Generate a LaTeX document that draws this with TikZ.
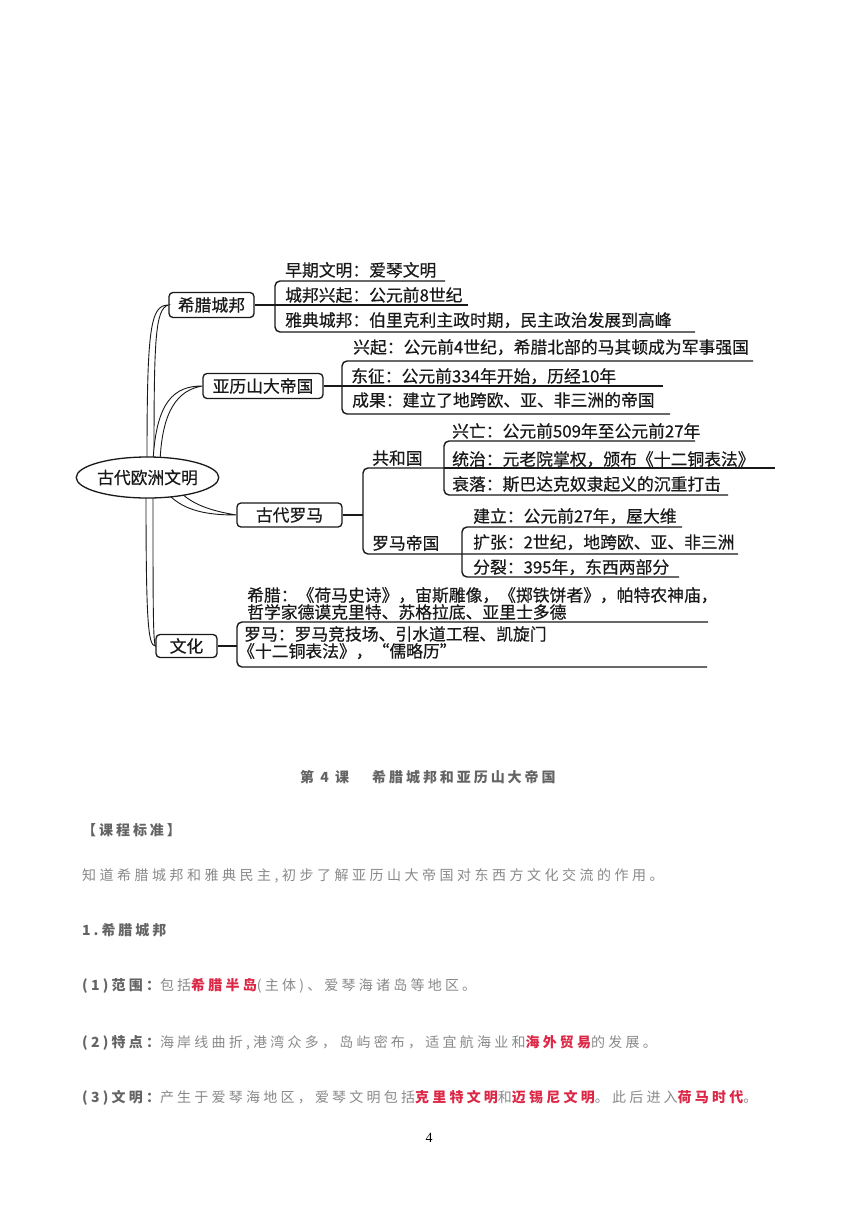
\documentclass[tikz,border=0pt]{standalone}
\usepackage{fontspec}
\setmainfont{Liberation Serif}
\newfontfamily\cjk{Noto Sans CJK SC}[FakeBold=0.5]
\newfontfamily\cjklow{Noto Sans CJK SC}[LetterSpace=21]
\newfontfamily\cjkpara{Noto Sans CJK SC}[LetterSpace=23]
\newfontfamily\cjkwide{Noto Sans CJK SC}[LetterSpace=25]
\usetikzlibrary{shapes.geometric}
\definecolor{ink}{RGB}{25,25,25}
\definecolor{bodygray}{RGB}{138,138,138}
\definecolor{boldgray}{RGB}{100,100,100}
\definecolor{hired}{RGB}{220,40,70}
\newcommand\mmfont{\cjk\fontsize{16.8}{18}\selectfont}
\newcommand\lowfont{\cjklow\fontsize{14}{16}\selectfont}
\newcommand\parafont{\cjkpara\fontsize{14}{16}\selectfont}
\newcommand\lowwide{\cjkwide\fontsize{14}{16}\selectfont}
\newcommand\hl[1]{{\bfseries\color{hired}#1}}
\newcommand\lb[1]{{\bfseries\color{boldgray}#1}}
\begin{document}
\begin{tikzpicture}[x=1pt,y=-1pt,
  mbox/.style={draw=ink, line width=1.3pt, rounded corners=4pt, inner sep=0pt, font=\mmfont, text=ink},
  item/.style={anchor=west, inner sep=0pt, font=\mmfont, text=ink, text height=14.8pt, text depth=2pt},
  ln/.style={draw=ink, line width=1.4pt, rounded corners=5pt},
  branch/.style={fill=white, draw=ink, line width=0.9pt},
  low/.style={anchor=west, inner sep=0pt, font=\lowfont, text=bodygray, text height=12.3pt, text depth=1.7pt}]
\fill[white] (0,0) rectangle (860,1216);
\useasboundingbox (0,0) rectangle (860,1216);

% ---------- boxes ----------
\node[mbox, minimum width=85pt, minimum height=25pt] (g) at (211.5,305) {希腊城邦};
\node[mbox, minimum width=120pt, minimum height=25pt] (a) at (263,386) {亚历山大帝国};
\node[mbox, minimum width=105pt, minimum height=24pt] (r) at (289.5,515) {古代罗马};
\node[mbox, minimum width=61pt, minimum height=23pt] (w) at (186.5,646) {文化};

% ---------- branches from the centre ----------
\draw[branch] (147,462) .. controls (147,330) and (150,305) .. (g.west)
   .. controls (155,309) and (154,340) .. (154,462) -- cycle;
\draw[branch] (153,462) .. controls (156,400) and (175,386) .. (a.west)
   .. controls (178,390) and (162,410) .. (160,462) -- cycle;
\draw[branch] (168,494) .. controls (185,512) and (210,515) .. (r.west)
   .. controls (212,511) and (192,505) .. (178,490) -- cycle;
\draw[branch] (146,494) .. controls (146,620) and (148,646) .. (w.west)
   .. controls (153,640) and (153,600) .. (153,494) -- cycle;

\node[ellipse, draw=ink, line width=1.3pt, fill=white, minimum width=129pt, minimum height=41pt,
      inner sep=0pt, font=\mmfont, text=ink] (c) at (147.5,477.5) {古代欧洲文明};

% ---------- 希腊城邦 ----------
\draw[ln] (445,281) -- (275,281) -- (275,332) -- (695,332);
\draw[ln] (g.east) -- (468,305);
\node[item] (g1) at (285,270) {早期文明：爱琴文明};
\node[item] (g2) at (285,295) {城邦兴起：公元前8世纪};
\node[item] (g3) at (285,320) {雅典城邦：伯里克利主政时期，民主政治发展到高峰};

% ---------- 亚历山大帝国 ----------
\draw[ln] (753,361) -- (342,361) -- (342,414) -- (670,414);
\draw[ln] (a.east) -- (663,386);
\node[item] (a1) at (353,347) {兴起：公元前4世纪，希腊北部的马其顿成为军事强国};
\node[item] (a2) at (351,376) {东征：公元前334年开始，历经10年};
\node[item] (a3) at (352,400) {成果：建立了地跨欧、亚、非三洲的帝国};

% ---------- 古代罗马 ----------
\draw[ln] (r.east) -- (363,515);
\draw[ln] (444,468) -- (363,468) -- (363,554) -- (738,554);
\node[item] (rg) at (372,458) {共和国};
\node[item] (re) at (372,543) {罗马帝国};
\draw[ln] (695,441) -- (444,441) -- (444,495) -- (728,495);
\draw[ln] (444,468) -- (775,468);
\node[item] (r1) at (452,431) {兴亡：公元前509年至公元前27年};
\node[item] (r2) at (452,459) {统治：元老院掌权，颁布《十二铜表法》};
\node[item] (r3) at (452,484) {衰落：斯巴达克奴隶起义的沉重打击};
\draw[ln] (682,527) -- (462,527) -- (462,577) -- (679,577);
\node[item] (r4) at (473,516) {建立：公元前27年，屋大维};
\node[item] (r5) at (473,542) {扩张：2世纪，地跨欧、亚、非三洲};
\node[item] (r6) at (473,567) {分裂：395年，东西两部分};

% ---------- 文化 ----------
\draw[ln] (w.east) -- (237,646);
\draw[ln] (708,622) -- (237,622) -- (237,667) -- (707,667);
\node[item] (w1) at (247,595) {希腊：《荷马史诗》，宙斯雕像，《掷铁饼者》，帕特农神庙，};
\node[item] (w2) at (247,612) {哲学家德谟克里特、苏格拉底、亚里士多德};
\node[item] (w3) at (244,634) {罗马：罗马竞技场、引水道工程、凯旋门};
\node[item] (w4) at (238,651) {《十二铜表法》，“儒略历”};

% ---------- lower text ----------
\node[low, text=boldgray, font=\lowfont\bfseries] (t0) at (300,777) {第 4 课};
\node[low, text=boldgray, font=\lowfont\bfseries] (t1) at (372,777) {希腊城邦和亚历山大帝国};
\node[low, text=boldgray, font=\lowfont\bfseries] (s0) at (82,830) {【课程标准】};
\node[low, font=\lowwide] (s1) at (82,875) {知道希腊城邦和雅典民主,初步了解亚历山大帝国对东西方文化交流的作用。};
\node[low, text=boldgray, font=\lowfont\bfseries] (h1) at (82,930) {1.希腊城邦};
\node[low, font=\parafont] (p1) at (82,985) {\lb{(1)范围：}包括\hl{希腊半岛}(主体)、爱琴海诸岛等地区。};
\node[low, font=\parafont] (p2) at (82,1042) {\lb{(2)特点：}海岸线曲折,港湾众多，岛屿密布，适宜航海业和\hl{海外贸易}的发展。};
\node[low, font=\parafont] (p3) at (82,1097) {\lb{(3)文明：}产生于爱琴海地区，爱琴文明包括\hl{克里特文明}和\hl{迈锡尼文明}。此后进入\hl{荷马时代}。};
\node[inner sep=0pt, font=\fontsize{14}{16}\selectfont, text=black] (pg) at (429,1138) {4};
\end{tikzpicture}
\end{document}
